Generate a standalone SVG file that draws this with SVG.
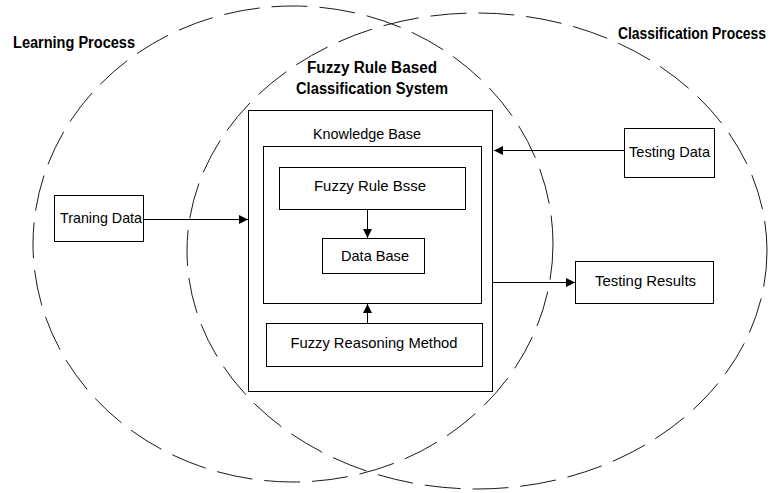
<svg xmlns="http://www.w3.org/2000/svg" width="776" height="493" viewBox="0 0 776 493">
<style>
.bg{fill:#ffffff}
.ell{fill:none;stroke:#1a1a1a;stroke-width:1;stroke-dasharray:36 12}
.box{fill:#ffffff;stroke:#000;stroke-width:1}
.t{font-family:"Liberation Sans",Arial,sans-serif;font-size:14.5px;fill:#000}
.b{font-family:"Liberation Sans",Arial,sans-serif;font-size:16px;font-weight:bold;fill:#000}
.con{fill:none;stroke:#000;stroke-width:1}
</style>
<defs>
<marker id="ah" viewBox="0 0 10 10" markerWidth="9" markerHeight="9" refX="10" refY="5" orient="auto" markerUnits="userSpaceOnUse">
<path d="M0,0 L10,5 L0,10 z" fill="#000"/>
</marker>
</defs>
<rect class="bg" x="0" y="0" width="776" height="493"/>
<g id="learning-process">
<ellipse class="ell" cx="293" cy="244" rx="260" ry="238"/>
<text class="b" x="13" y="48" textLength="122" lengthAdjust="spacingAndGlyphs">Learning Process</text>
</g>
<g id="classification-process">
<ellipse class="ell" cx="477" cy="251" rx="290" ry="238"/>
<text class="b" x="618" y="39" textLength="148" lengthAdjust="spacingAndGlyphs">Classification Process</text>
</g>
<g id="frbcs">
<text class="b" x="372" y="73" text-anchor="middle" textLength="130" lengthAdjust="spacingAndGlyphs">Fuzzy Rule Based</text>
<text class="b" x="372" y="94" text-anchor="middle" textLength="152" lengthAdjust="spacingAndGlyphs">Classification System</text>
<rect class="box" x="248.5" y="110.5" width="244" height="281"/>
<text class="t" x="367" y="139" text-anchor="middle" textLength="108" lengthAdjust="spacingAndGlyphs">Knowledge Base</text>
</g>
<g id="knowledge-base">
<rect class="box" x="263.5" y="146.5" width="218" height="157"/>
</g>
<g id="fuzzy-rule-base">
<rect class="box" x="279.5" y="167.5" width="186" height="42"/>
<text class="t" x="370" y="191" text-anchor="middle" textLength="112" lengthAdjust="spacingAndGlyphs">Fuzzy Rule Bsse</text>
</g>
<g id="data-base">
<rect class="box" x="322.5" y="238.5" width="102" height="35"/>
<text class="t" x="375" y="261" text-anchor="middle" textLength="68" lengthAdjust="spacingAndGlyphs">Data Base</text>
</g>
<g id="fuzzy-reasoning-method">
<rect class="box" x="266.5" y="323.5" width="216" height="43"/>
<text class="t" x="374" y="348" text-anchor="middle" textLength="167" lengthAdjust="spacingAndGlyphs">Fuzzy Reasoning Method</text>
</g>
<g id="training-data">
<rect class="box" x="54.5" y="195.5" width="89" height="46"/>
<text class="t" x="60" y="223" textLength="82" lengthAdjust="spacingAndGlyphs">Traning Data</text>
</g>
<g id="testing-data">
<rect class="box" x="624.5" y="128.5" width="90" height="49"/>
<text class="t" x="629" y="157" textLength="81" lengthAdjust="spacingAndGlyphs">Testing Data</text>
</g>
<g id="testing-results">
<rect class="box" x="575.5" y="261.5" width="138" height="42"/>
<text class="t" x="595" y="286" textLength="101" lengthAdjust="spacingAndGlyphs">Testing Results</text>
</g>
<g id="connectors">
<path class="con" d="M144,219.5 H248" marker-end="url(#ah)"/>
<path class="con" d="M624,150.5 H494" marker-end="url(#ah)"/>
<path class="con" d="M493,282.5 H575" marker-end="url(#ah)"/>
<path class="con" d="M367.5,210 V238" marker-end="url(#ah)"/>
<path class="con" d="M367.5,323 V304" marker-end="url(#ah)"/>
</g>
</svg>
